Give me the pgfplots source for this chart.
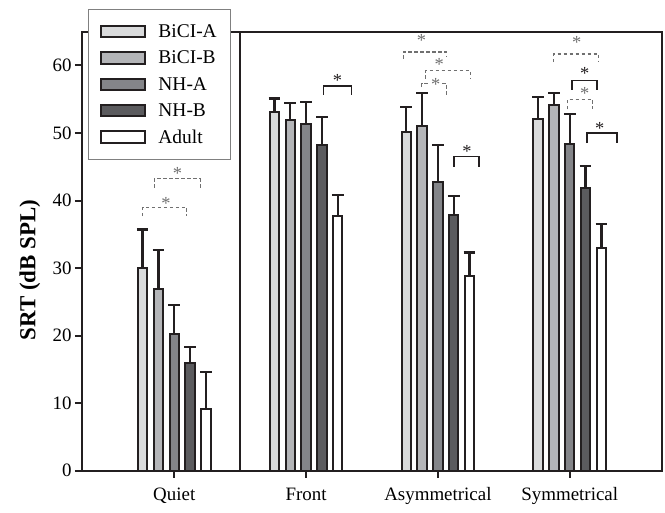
\documentclass[border=0pt]{standalone}
\usepackage{fontspec}
\setmainfont{Liberation Serif}
\usepackage{pgfplots}
\pgfplotsset{compat=1.18}
\definecolor{edge}{HTML}{231F20}
\definecolor{cA}{HTML}{D9DADB}
\definecolor{cB}{HTML}{B4B5B8}
\definecolor{cC}{HTML}{848589}
\definecolor{cD}{HTML}{5B5B5E}
\definecolor{cE}{HTML}{FFFFFF}
\definecolor{dgray}{HTML}{707070}
\tikzset{
  dsh/.style={draw=dgray, line width=1.1bp, dash pattern=on 3.5bp off 2.5bp},
  sld/.style={draw=edge, line width=1.6bp},
  astg/.style={text=dgray, font=\fontsize{18.5}{18.5}\selectfont, inner sep=0pt, anchor=center},
  astb/.style={text=edge, font=\fontsize{18.5}{18.5}\selectfont, inner sep=0pt, anchor=center},
}
\begin{document}
\begin{tikzpicture}
\path[use as bounding box] (-82bp,-42.3bp) rectangle (583bp,470.7bp);
\begin{axis}[
  width=580bp, height=439bp, scale only axis,
  xmin=-0.7, xmax=3.7, ymin=0, ymax=65,
  clip=false,
  axis line style={line width=2bp, draw=edge},
  xtick={0,1,2,3},
  xticklabels={Quiet,Front,Asymmetrical,Symmetrical},
  ytick={0,10,20,30,40,50,60},
  tick align=outside, xtick pos=left, ytick pos=left,
  major tick length=7bp,
  every tick/.style={line width=2bp, draw=edge},
  tick label style={font=\fontsize{19}{23}\selectfont},
  xticklabel style={yshift=-6.5bp},
  /pgf/number format/assume math mode=true,
  ylabel={\textbf{SRT (dB SPL)}},
  ylabel style={font=\fontsize{23}{27}\selectfont, at={(axis description cs:-0.09,0.457)}, anchor=center},
  legend image code/.code={\draw[#1,line width=2bp,draw=edge] (0bp,-5.7bp) rectangle (44bp,5.7bp);},
  legend style={at={(axis description cs:0.0103,1.0517)}, anchor=north west,
    draw=gray, line width=1bp, fill=white,
    font=\fontsize{19.5}{23}\selectfont,
    inner xsep=12bp, inner ysep=13bp, row sep=8bp, column sep=10bp},
  legend cell align=left,
  mybar/.style={ybar, bar width=9.5bp, bar shift=0pt, draw=edge, line width=2bp, fill=#1, forget plot,
    /pgfplots/error bars/y dir=plus, /pgfplots/error bars/y explicit,
    /pgfplots/error bars/error mark=|,
    /pgfplots/error bars/error bar style={line width=2.3bp, draw=edge},
    /pgfplots/error bars/error mark options={line width=2.3bp, mark size=5.8bp, draw=edge}},
]
\addplot[mybar=cA] coordinates {(-0.24,30.0) +- (0,5.7) (0.76,53.1) +- (0,2.0) (1.76,50.2) +- (0,3.6) (2.76,52.1) +- (0,3.2)};
\addplot[mybar=cB] coordinates {(-0.12,26.9) +- (0,5.8) (0.88,51.9) +- (0,2.5) (1.88,51.1) +- (0,4.8) (2.88,54.1) +- (0,1.8)};
\addplot[mybar=cC] coordinates {(0,20.3) +- (0,4.2) (1,51.3) +- (0,3.3) (2,42.8) +- (0,5.4) (3,48.3) +- (0,4.5)};
\addplot[mybar=cD] coordinates {(0.12,15.9) +- (0,2.4) (1.12,48.2) +- (0,4.2) (2.12,37.8) +- (0,2.9) (3.12,41.9) +- (0,3.2)};
\addplot[mybar=cE] coordinates {(0.24,9.2) +- (0,5.4) (1.24,37.7) +- (0,3.1) (2.24,28.8) +- (0,3.5) (3.24,33.0) +- (0,3.5)};
\addlegendimage{fill=cA}\addlegendentry{BiCI-A}
\addlegendimage{fill=cB}\addlegendentry{BiCI-B}
\addlegendimage{fill=cC}\addlegendentry{NH-A}
\addlegendimage{fill=cD}\addlegendentry{NH-B}
\addlegendimage{fill=cE}\addlegendentry{Adult}
% separator line
\draw[line width=2bp, draw=edge] (axis cs:0.5,0) -- (axis cs:0.5,65);
% Quiet
\draw[dsh] (axis cs:-0.152,41.9) -- (axis cs:-0.152,43.2) -- (axis cs:0.197,43.2) -- (axis cs:0.197,41.9);
\node[astg] at (axis cs:0.025,44.0) {*};
\draw[dsh] (axis cs:-0.240,37.7) -- (axis cs:-0.240,39.0) -- (axis cs:0.096,39.0) -- (axis cs:0.096,37.7);
\node[astg] at (axis cs:-0.063,39.5) {*};
% Front
\draw[sld] (axis cs:1.133,55.7) -- (axis cs:1.133,57.0) -- (axis cs:1.345,57.0) -- (axis cs:1.345,55.7);
\node[astb] at (axis cs:1.239,57.8) {*};
% Asymmetrical
\draw[dsh] (axis cs:1.737,61.0) -- (axis cs:1.737,62.0) -- (axis cs:2.066,62.0) -- (axis cs:2.066,61.2);
\node[astg] at (axis cs:1.875,63.7) {*};
\draw[dsh] (axis cs:1.907,58.0) -- (axis cs:1.907,59.2) -- (axis cs:2.248,59.2) -- (axis cs:2.248,58.0);
\node[astg] at (axis cs:2.010,60.1) {*};
\draw[dsh] (axis cs:1.876,56.8) -- (axis cs:1.876,57.3) -- (axis cs:2.066,57.3) -- (axis cs:2.066,55.7);
\node[astg, fill=white, inner sep=0.8bp] at (axis cs:1.983,57.2) {*};
\draw[sld] (axis cs:2.121,45.0) -- (axis cs:2.121,46.5) -- (axis cs:2.311,46.5) -- (axis cs:2.311,45.0);
\node[astb] at (axis cs:2.220,47.2) {*};
% Symmetrical
\draw[dsh] (axis cs:2.879,60.5) -- (axis cs:2.879,61.7) -- (axis cs:3.220,61.7) -- (axis cs:3.220,60.5);
\node[astg] at (axis cs:3.053,63.4) {*};
\draw[sld] (axis cs:3.015,56.4) -- (axis cs:3.015,57.8) -- (axis cs:3.205,57.8) -- (axis cs:3.205,56.4);
\node[astb] at (axis cs:3.114,58.8) {*};
\draw[dsh] (axis cs:2.985,53.5) -- (axis cs:2.985,55.0) -- (axis cs:3.174,55.0) -- (axis cs:3.174,53.5);
\node[astg] at (axis cs:3.114,55.9) {*};
\draw[sld] (axis cs:3.129,48.5) -- (axis cs:3.129,50.0) -- (axis cs:3.357,50.0) -- (axis cs:3.357,48.5);
\node[astb] at (axis cs:3.228,50.6) {*};
\end{axis}
\end{tikzpicture}
\end{document}
